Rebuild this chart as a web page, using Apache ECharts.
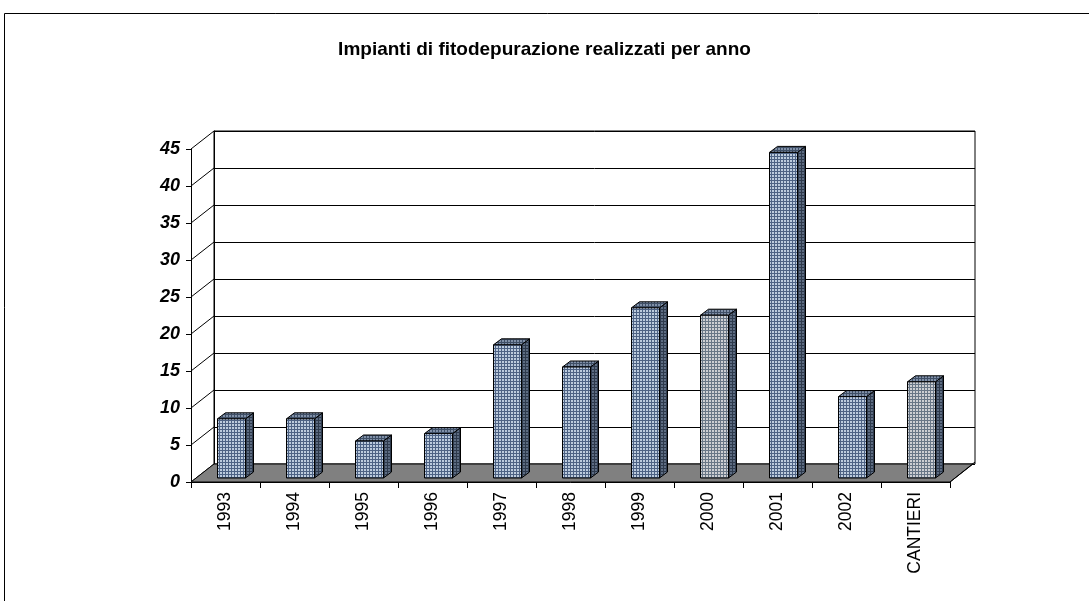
<!DOCTYPE html>
<html>
<head>
<meta charset="utf-8">
<script src="https://cdn.jsdelivr.net/npm/echarts@6/dist/echarts.min.js"></script>
<style>
html, body { margin: 0; padding: 0; background: #fff; }
#grafico { width: 1089px; height: 601px; }
</style>
</head>
<body>
<div id="grafico"></div>
<script>
// dati
var anni = ['1993', '1994', '1995', '1996', '1997', '1998', '1999', '2000', '2001', '2002', 'CANTIERI'];
var impianti = [8, 8, 5, 6, 18, 15, 23, 22, 44, 11, 13];
var tacche = [0, 5, 10, 15, 20, 25, 30, 35, 40, 45];

// spostamento della parete di fondo (effetto 3D)
var DX = 23, DY = -18;

function retino(sfondo, righe) {
    var c = document.createElement('canvas');
    c.width = 3; c.height = 3;
    var ctx = c.getContext('2d');
    ctx.fillStyle = sfondo;
    ctx.fillRect(0, 0, 3, 3);
    ctx.fillStyle = righe;
    ctx.fillRect(0, 0, 3, 1);
    ctx.fillRect(0, 0, 1, 3);
    return { image: c, repeat: 'repeat' };
}

var fronteBlu = retino('#bccbdd', '#4d6284');
var fronteGrigio = retino('#cdcfd3', '#687686');
var latoBlu = retino('#5d6c82', '#2e3a4c');
var sopraBlu = retino('#8090a8', '#3f4f66');

function barra3d(params, api) {
    var base = api.coord([api.value(0), 0]);
    var cima = api.coord([api.value(0), api.value(1)]);
    var w = 28, sx = 6, sy = -4, px = 8, py = -6;
    var x0 = base[0] - w / 2 + sx, x1 = x0 + w;
    var y0 = base[1] + sy, y1 = cima[1] + sy;
    var grigia = (anni[params.dataIndex] === '2000' || anni[params.dataIndex] === 'CANTIERI');
    var bordo = { stroke: '#000', lineWidth: 1 };
    return {
        type: 'group',
        children: [
            { type: 'polygon', shape: { points: [[x1, y0], [x1 + px, y0 + py], [x1 + px, y1 + py], [x1, y1]] },
              style: Object.assign({ fill: latoBlu }, bordo) },
            { type: 'polygon', shape: { points: [[x0, y1], [x1, y1], [x1 + px, y1 + py], [x0 + px, y1 + py]] },
              style: Object.assign({ fill: sopraBlu }, bordo) },
            { type: 'rect', shape: { x: x0, y: y1, width: w, height: y0 - y1 },
              style: Object.assign({ fill: grigia ? fronteGrigio : fronteBlu }, bordo) }
        ]
    };
}

function pavimento(params, api) {
    var cs = params.coordSys;
    var y = api.coord([0, 0])[1];
    var xl = cs.x, xr = cs.x + cs.width;
    return {
        type: 'group',
        children: [
            { type: 'polygon', shape: { points: [[xl, y], [xr, y], [xr + DX, y + DY], [xl + DX, y + DY]] },
              style: { fill: '#808080', stroke: '#000', lineWidth: 1 } },
            { type: 'line', shape: { x1: xr, y1: y, x2: xr + DX + 2, y2: y + DY - 2 },
              style: { stroke: '#000', lineWidth: 1 } }
        ]
    };
}

function diagonali(params, api) {
    var cs = params.coordSys;
    var y = api.coord([0, api.value(0)])[1];
    return {
        type: 'line',
        shape: { x1: cs.x, y1: y, x2: cs.x + DX, y2: y + DY },
        style: { stroke: '#000', lineWidth: 1 }
    };
}

var grafico = echarts.init(document.getElementById('grafico'));
var option = {
    animation: false,
    backgroundColor: '#fff',
    title: {
        text: 'Impianti di fitodepurazione realizzati per anno',
        left: 'center',
        top: 35,
        textStyle: { fontFamily: 'Liberation Sans', fontSize: 19, fontWeight: 'bold', color: '#000' }
    },
    graphic: [{
        type: 'rect', z: -10,
        shape: { x: 4.5, y: 13.5, width: 1200, height: 700 },
        style: { fill: 'none', stroke: '#000', lineWidth: 1 }
    }],
    grid: [
        { left: 191, right: 139, top: 149, bottom: 119 },
        { left: 191 + DX, right: 139 - DX - 2, top: 149 + DY, bottom: 119 - DY,
          show: true, borderColor: '#000', borderWidth: 1, backgroundColor: 'transparent' }
    ],
    xAxis: [
        { type: 'category', gridIndex: 0, data: anni,
          axisLine: { lineStyle: { color: '#000', width: 1 } },
          axisTick: { show: true, length: 6, lineStyle: { color: '#000' } },
          axisLabel: { rotate: 90, margin: 10, fontFamily: 'Liberation Sans', fontSize: 17.5, color: '#000' } },
        { type: 'category', gridIndex: 1, data: anni, show: false }
    ],
    yAxis: [
        { type: 'value', gridIndex: 0, min: 0, max: 45, interval: 5,
          axisLine: { show: true, lineStyle: { color: '#000', width: 1 } },
          axisTick: { show: true, length: 5, lineStyle: { color: '#000' } },
          splitLine: { show: false },
          axisLabel: { margin: 11, fontFamily: 'Liberation Sans', fontSize: 18, fontWeight: 'bold',
                       fontStyle: 'italic', color: '#000' } },
        { type: 'value', gridIndex: 1, min: 0, max: 45, interval: 5,
          axisLine: { show: true, lineStyle: { color: '#000', width: 1 } },
          axisTick: { show: false }, axisLabel: { show: false },
          splitLine: { show: true, lineStyle: { color: '#000', width: 1 } } }
    ],
    series: [
        { type: 'custom', xAxisIndex: 0, yAxisIndex: 0, z: 3, silent: true,
          renderItem: diagonali,
          data: tacche.map(function (t) { return [t]; }) },
        { type: 'custom', xAxisIndex: 0, yAxisIndex: 0, z: 4, silent: true,
          renderItem: pavimento, data: [[0]] },
        { type: 'custom', xAxisIndex: 0, yAxisIndex: 0, z: 5, silent: true,
          renderItem: barra3d,
          encode: { x: 0, y: 1 },
          data: impianti.map(function (v, i) { return [i, v]; }) }
    ]
};
grafico.setOption(option);
</script>
</body>
</html>
